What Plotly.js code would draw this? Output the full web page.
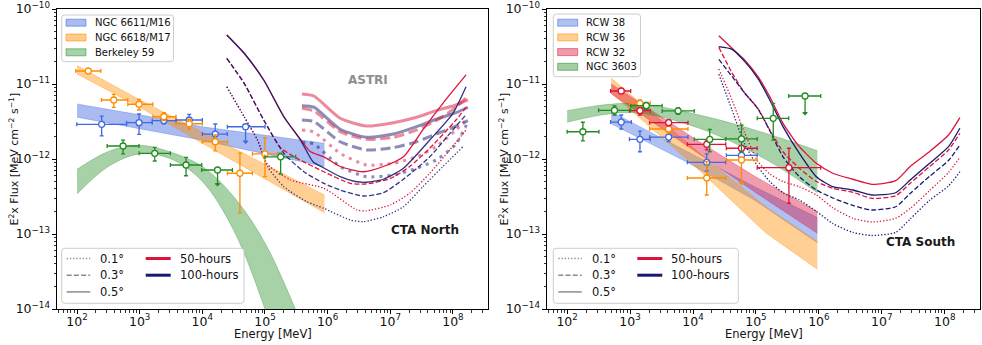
<!DOCTYPE html>
<html><head><meta charset="utf-8">
<script src="https://cdn.plot.ly/plotly-3.0.1.min.js"></script>
<style>html,body{margin:0;padding:0;background:#fff}#chart{width:982px;height:345px}</style>
</head><body><div id="chart"></div>
<script>
// ================= DATA (Energy in MeV, E^2 Flux in MeV cm^-2 s^-1) =================
// ---- Left panel: CTA North ----
// NGC 6611/M16
const m16E   = [247, 977, 2432, 6166, 1.607e4, 4.9e4];
const m16ELo = [99, 617, 1585, 3802, 1e4, 2.51e4];
const m16EHi = [617, 1585, 3802, 1e4, 2.51e4, 1e5];
const m16F   = [2.90e-12, 3.05e-12, 3.24e-12, 3.31e-12, 2.15e-12, 2.69e-12];
const m16FLo = [2.04e-12, 2.13e-12, 2.95e-12, 2.75e-12, 1.585e-12, 1.70e-12];
const m16FHi = [3.72e-12, 3.98e-12, 3.50e-12, 3.94e-12, 2.93e-12, 2.69e-12];
const m16UL  = [0, 0, 0, 0, 0, 1];
const m16BandE  = [100, 1000, 1e4, 1e5, 8.91e5];
const m16BandHi = [5.41e-12, 3.89e-12, 2.69e-12, 2.09e-12, 1.62e-12];
const m16BandLo = [3.60e-12, 2.51e-12, 1.78e-12, 1.17e-12, 7.94e-13];
// NGC 6618/M17
const m17E   = [151, 386, 977, 2432, 6166, 1.607e4, 3.98e4, 1e5];
const m17ELo = [95.5, 245, 646, 1622, 3802, 1e4, 2.51e4, 6.31e4];
const m17EHi = [240, 646, 1622, 3802, 1e4, 2.51e4, 6.31e4, 1.585e5];
const m17F   = [1.49e-11, 6.12e-12, 5.37e-12, 3.66e-12, 2.95e-12, 1.70e-12, 6.46e-13, 1.17e-12];
const m17FLo = [1.42e-11, 4.89e-12, 4.50e-12, 3.24e-12, 2.51e-12, 1.28e-12, 1.91e-13, 5.81e-13];
const m17FHi = [1.55e-11, 7.28e-12, 6.25e-12, 4.15e-12, 3.39e-12, 2.09e-12, 1.20e-12, 1.92e-12];
const m17UL  = [0, 0, 0, 0, 0, 0, 0, 0];
const m17BandE  = [100, 1000, 1e4, 1e5, 8.91e5];
const m17BandHi = [1.76e-11, 6.17e-12, 2.29e-12, 8.51e-13, 3.31e-13];
const m17BandLo = [1.36e-11, 4.90e-12, 1.62e-12, 5.37e-13, 1.92e-13];
// Berkeley 59
const b59E   = [543, 1738, 5495, 1.75e4, 1.778e5];
const b59ELo = [302, 977, 3090, 9772, 1e5];
const b59EHi = [977, 3090, 9772, 3.02e4, 3.09e5];
const b59F   = [1.49e-12, 1.19e-12, 8.32e-13, 7.13e-13, 1.07e-12];
const b59FLo = [1.17e-12, 9.4e-13, 5.98e-13, 4.6e-13, 6.3e-13];
const b59FHi = [1.79e-12, 1.43e-12, 1.05e-12, 7.13e-13, 1.2e-12];
const b59UL  = [0, 0, 0, 1, 0];
const b59BandE  = [100, 316, 1000, 3162, 1e4, 3.16e4, 1e5, 3.16e5];
const b59BandHi = [7.28e-13, 1.26e-12, 1.52e-12, 1.23e-12, 7.94e-13, 3.16e-13, 7.59e-14, 9.3e-15];
const b59BandLo = [3.41e-13, 7.94e-13, 1.17e-12, 1.0e-12, 5.01e-13, 1.12e-13, 1.0e-14, 5e-16];

// CTA North sensitivities
const nS100E = [2.455e4, 4.65e4, 9.55e4, 2.0e5, 3.69e5, 5.89e5, 8.71e5, 1.585e6, 2.75e6, 4.17e6, 7.76e6, 1.62e7, 4.27e7, 1e8, 1.62e8];
const nS100F = [4.50e-11, 2.57e-11, 1.13e-11, 3.66e-12, 1.79e-12, 9.12e-13, 7.59e-13, 5.81e-13, 5.01e-13, 4.90e-13, 5.37e-13, 7.52e-13, 1.79e-12, 4.07e-12, 9.20e-12];
const nS50E  = [2.455e4, 4.65e4, 9.55e4, 2.0e5, 3.69e5, 5.25e5, 8.71e5, 1.585e6, 3.72e6, 7.76e6, 1.62e7, 3.31e7, 6.92e7, 1.62e8];
const nS50F  = [4.50e-11, 2.57e-11, 1.13e-11, 3.66e-12, 1.82e-12, 1.26e-12, 1.07e-12, 7.94e-13, 6.76e-13, 7.94e-13, 1.07e-12, 2.45e-12, 5.53e-12, 1.32e-11];
const nD100E = [2.455e4, 4.65e4, 9.55e4, 2.0e5, 4.17e5, 8.71e5, 1.585e6, 3.72e6, 7.76e6, 1.62e7, 4.27e7, 1e8, 1.62e8];
const nD100F = [2.20e-11, 1.02e-11, 3.31e-12, 1.19e-12, 6.76e-13, 4.74e-13, 3.86e-13, 3.21e-13, 3.55e-13, 5.37e-13, 1.07e-12, 2.45e-12, 3.89e-12];
const nD50E  = [2.455e4, 4.65e4, 9.55e4, 1.778e5, 3.24e5, 8.71e5, 2.29e6, 4.17e6, 1e7, 2.04e7, 4.27e7, 1.122e8, 1.62e8];
const nD50F  = [2.20e-11, 1.02e-11, 3.31e-12, 1.41e-12, 1.02e-12, 6.76e-13, 4.74e-13, 4.65e-13, 5.50e-13, 7.94e-13, 1.39e-12, 3.31e-12, 4.90e-12];
const nT100E = [2.455e4, 4.65e4, 7.59e4, 1.096e5, 2.0e5, 4.68e5, 8.71e5, 2.29e6, 3.72e6, 7.76e6, 1.62e7, 3.31e7, 6.92e7, 1.445e8];
const nT100F = [9.20e-12, 3.66e-12, 1.79e-12, 7.94e-13, 4.27e-13, 2.69e-13, 2.20e-13, 1.54e-13, 1.46e-13, 1.70e-13, 2.31e-13, 4.27e-13, 7.94e-13, 1.46e-12];
const nT50E  = [2.455e4, 4.65e4, 7.59e4, 1.096e5, 2.57e5, 8.71e5, 2.95e6, 4.17e6, 1e7, 2.04e7, 4.27e7, 8.91e7, 1.62e8];
const nT50F  = [9.20e-12, 3.66e-12, 1.79e-12, 8.5e-13, 5.25e-13, 4.07e-13, 2.09e-13, 2.04e-13, 2.44e-13, 3.49e-13, 6.46e-13, 1.32e-12, 2.44e-12];

// ASTRI sensitivities
const astriE     = [3.89e5, 6.03e5, 1.585e6, 4.17e6, 1.122e7, 2.63e7, 5.37e7, 1.122e8, 1.738e8];
const astriS50F  = [7.36e-12, 6.92e-12, 3.49e-12, 2.75e-12, 3.05e-12, 3.60e-12, 4.41e-12, 5.25e-12, 6.12e-12];
const astriS100F = [5.14e-12, 4.90e-12, 2.49e-12, 1.95e-12, 2.15e-12, 2.70e-12, 3.39e-12, 4.14e-12, 4.90e-12];
const astriD50F  = [4.74e-12, 4.37e-12, 2.31e-12, 1.83e-12, 1.95e-12, 2.44e-12, 3.24e-12, 4.90e-12, 6.92e-12];
const astriD100F = [3.31e-12, 3.16e-12, 1.70e-12, 1.32e-12, 1.42e-12, 1.70e-12, 2.15e-12, 2.75e-12, 3.24e-12];
const astriT50F  = [2.44e-12, 2.29e-12, 1.19e-12, 8.32e-13, 8.77e-13, 1.07e-12, 1.46e-12, 2.44e-12, 3.49e-12];
const astriT100F = [1.66e-12, 1.585e-12, 7.94e-13, 5.81e-13, 6.12e-13, 7.52e-13, 9.70e-13, 1.585e-12, 3.16e-12];

// ---- Right panel: CTA South ----
// RCW 38
const r38E   = [724, 1435, 4102, 1.652e4, 5.89e4];
const r38ELo = [490, 977, 2042, 8128, 3.39e4];
const r38EHi = [1047, 2089, 8318, 3.31e4, 1.047e5];
const r38F   = [3.11e-12, 1.83e-12, 1.96e-12, 9.03e-13, 1.12e-12];
const r38FLo = [2.51e-12, 1.25e-12, 1.70e-12, 6.92e-13, 1.12e-12];
const r38FHi = [3.86e-12, 2.36e-12, 2.31e-12, 1.17e-12, 1.12e-12];
const r38UL  = [0, 0, 0, 0, 0];
const r38BandE  = [501, 7943, 1e5, 9.46e5];
const r38BandHi = [4.27e-12, 1.26e-12, 4.17e-13, 1.66e-13];
const r38BandLo = [2.95e-12, 9.12e-13, 2.75e-13, 7.66e-14];
// RCW 36
const r36E   = [1435, 4102, 1.652e4, 5.89e4];
const r36ELo = [977, 2042, 8128, 3.39e4];
const r36EHi = [2089, 8318, 3.31e4, 1.047e5];
const r36F   = [5.53e-12, 2.51e-12, 5.58e-13, 9.70e-13];
const r36FLo = [5.01e-12, 2.24e-12, 3.31e-13, 4.74e-13];
const r36FHi = [6.12e-12, 2.84e-12, 9.20e-13, 9.70e-13];
const r36UL  = [0, 0, 0, 1];
const r36BandE  = [501, 1.259e4, 1.462e5, 9.46e5];
const r36BandHi = [1.20e-11, 1.20e-12, 2.29e-13, 7.94e-14];
const r36BandLo = [7.59e-12, 7.08e-13, 1.02e-13, 3.39e-14];
// RCW 32
const r32E   = [724, 1435, 4102, 1.652e4, 5.89e4, 3.34e5];
const r32ELo = [490, 977, 2042, 8128, 3.39e4, 1.047e5];
const r32EHi = [1023, 2089, 8318, 3.31e4, 1.047e5, 1.07e6];
const r32F   = [8.07e-12, 4.41e-12, 3.05e-12, 1.57e-12, 1.39e-12, 7.66e-13];
const r32FLo = [7.52e-12, 3.86e-12, 2.78e-12, 1.32e-12, 1.39e-12, 2.57e-13];
const r32FHi = [8.77e-12, 4.83e-12, 3.31e-12, 1.79e-12, 1.39e-12, 1.39e-12];
const r32UL  = [0, 0, 0, 0, 0, 0];
const r32BandE  = [501, 1.259e4, 1e5, 9.46e5];
const r32BandHi = [1.0e-11, 1.70e-12, 5.75e-13, 2.0e-13];
const r32BandLo = [7.41e-12, 1.17e-12, 3.55e-13, 1.02e-13];
// NGC 3603
const n3603E   = [178, 566, 1811, 5794, 1.845e4, 5.89e4, 1.884e5, 6.03e5];
const n3603ELo = [100, 316, 1023, 3236, 1.047e4, 3.31e4, 1.047e5, 3.31e5];
const n3603EHi = [320, 1023, 3236, 1.047e4, 3.31e4, 1.047e5, 3.31e5, 1.07e6];
const n3603F   = [2.31e-12, 4.46e-12, 5.14e-12, 4.37e-12, 1.83e-12, 1.85e-12, 3.49e-12, 6.92e-12];
const n3603FLo = [1.74e-12, 3.86e-12, 4.60e-12, 3.94e-12, 1.25e-12, 1.25e-12, 1.79e-12, 4.07e-12];
const n3603FHi = [3.09e-12, 5.09e-12, 5.70e-12, 4.83e-12, 2.49e-12, 2.84e-12, 5.53e-12, 6.92e-12];
const n3603UL  = [0, 0, 0, 0, 0, 0, 0, 1];
const n3603BandE  = [100, 1000, 1.259e4, 1.462e5, 9.46e5];
const n3603BandHi = [4.41e-12, 5.53e-12, 3.86e-12, 2.19e-12, 1.29e-12];
const n3603BandLo = [3.09e-12, 4.17e-12, 2.57e-12, 9.77e-13, 3.55e-13];

// CTA South sensitivities
const sE     = [2.57e4, 4.17e4, 6.61e4, 1.072e5, 1.66e5, 2.69e5, 4.90e5, 9.12e5, 1.66e6, 3.47e6, 6.92e6, 1.66e7, 2.82e7, 5.75e7, 1.148e8, 1.738e8];
const sS50F  = [4.41e-11, 2.99e-11, 2.09e-11, 1.26e-11, 6.76e-12, 2.99e-12, 1.46e-12, 8.77e-13, 6.46e-13, 5.37e-13, 4.60e-13, 5.14e-13, 7.94e-13, 1.26e-12, 2.09e-12, 3.56e-12];
const sS100F = [3.15e-11, 2.90e-11, 2.0e-11, 1.19e-11, 6.12e-12, 2.70e-12, 1.19e-12, 5.81e-13, 4.27e-13, 3.86e-13, 3.31e-13, 3.55e-13, 5.25e-13, 8.77e-13, 1.46e-12, 2.57e-12];
const sD50F  = [3.09e-11, 1.41e-11, 7.59e-12, 4.74e-12, 2.44e-12, 1.25e-12, 7.52e-13, 5.01e-13, 4.07e-13, 3.60e-13, 2.99e-13, 3.24e-13, 4.74e-13, 7.94e-13, 1.32e-12, 2.20e-12];
const sD100F = [2.13e-11, 1.26e-11, 7.59e-12, 4.68e-12, 2.38e-12, 1.07e-12, 5.81e-13, 3.86e-13, 3.02e-13, 2.40e-13, 2.09e-13, 2.31e-13, 3.47e-13, 5.89e-13, 9.55e-13, 1.54e-12];
const sT50F  = [1.585e-11, 6.12e-12, 2.24e-12, 9.33e-13, 6.31e-13, 5.01e-13, 4.27e-13, 3.31e-13, 2.24e-13, 1.62e-13, 1.445e-13, 1.62e-13, 2.19e-13, 3.80e-13, 6.61e-13, 1.05e-12];
const sT100F = [1.35e-11, 4.50e-12, 1.585e-12, 7.94e-13, 5.01e-13, 3.55e-13, 2.84e-13, 2.0e-13, 1.38e-13, 1.05e-13, 9.55e-14, 1.05e-13, 1.585e-13, 2.82e-13, 4.37e-13, 6.76e-13];

// Legend / label texts
const leftNames  = ['NGC 6611/M16', 'NGC 6618/M17', 'Berkeley 59'];
const rightNames = ['RCW 38', 'RCW 36', 'RCW 32', 'NGC 3603'];
const styleNames = ['0.1°', '0.3°', '0.5°'];
const timeNames  = ['50-hours', '100-hours'];
const xTitle = 'Energy [MeV]';
const yTitle = 'E<sup>2</sup>x Flux [MeV cm<sup>\u22122</sup> s<sup>\u22121</sup>]';

// ================= STYLE =================
const COL = {blue:[65,105,225], orange:[255,140,0], green:[34,139,34], red:[220,20,60], navy:[25,25,112]};
const rgba = (c, a) => `rgba(${c[0]},${c[1]},${c[2]},${a})`;
const FONT = 'DejaVu Sans';
const DOT = '1.3px,1.9px', DASH = '5px,2.2px';
const TDOT = '3px,5px', TDASH = '10px,4.5px';
const W = 982, H = 345;
const PXx = x => x / W, PXy = y => 1 - y / H;

const traces = [];
function band(xa, ya, E, lo, hi, c, a, shape) {
  traces.push({x:E, y:lo, xaxis:xa, yaxis:ya, mode:'lines', hoverinfo:'skip', showlegend:false,
    line:{color:rgba(c, a+0.1), width:0.6, shape:shape, smoothing:1}});
  traces.push({x:E, y:hi, xaxis:xa, yaxis:ya, mode:'lines', hoverinfo:'skip', showlegend:false,
    fill:'tonexty', fillcolor:rgba(c, a), line:{color:rgba(c, a+0.1), width:0.6, shape:shape, smoothing:1}});
}
function curve(xa, ya, E, F, c, w, dash, op) {
  traces.push({x:E, y:F, xaxis:xa, yaxis:ya, mode:'lines', showlegend:false, opacity:op || 1,
    line:{color:rgba(c,1), width:w, dash:dash, shape:'spline', smoothing:0.6}});
}
function pts(xa, ya, c, E, ELo, EHi, F, FLo, FHi, UL) {
  traces.push({x:E, y:F, xaxis:xa, yaxis:ya, mode:'markers', showlegend:false,
    marker:{symbol:'circle', size:6, color:'#fff', line:{color:rgba(c,1), width:1.3}},
    error_x:{type:'data', symmetric:false, array:E.map((v,i)=>EHi[i]-v), arrayminus:E.map((v,i)=>v-ELo[i]), color:rgba(c,1), thickness:1.3, width:2},
    error_y:{type:'data', symmetric:false, array:F.map((v,i)=>FHi[i]-v), arrayminus:F.map((v,i)=>v-FLo[i]), color:rgba(c,1), thickness:1.3, width:2}});
  const ax = [], ay = [];
  UL.forEach((u,i) => { if (u) { ax.push(E[i]); ay.push(FLo[i]); } });
  if (ax.length) traces.push({x:ax, y:ay, xaxis:xa, yaxis:ya, mode:'markers', showlegend:false,
    marker:{symbol:'triangle-down', size:5, color:rgba(c,1)}});
}

// ---- left panel ----
band('x','y', m16BandE, m16BandLo, m16BandHi, COL.blue, 0.45, 'linear');
band('x','y', m17BandE, m17BandLo, m17BandHi, COL.orange, 0.42, 'linear');
band('x','y', b59BandE, b59BandLo, b59BandHi, COL.green, 0.4, 'spline');
curve('x','y', astriE, astriS50F,  COL.red, 3, 'solid', 0.5);
curve('x','y', astriE, astriS100F, COL.navy, 3, 'solid', 0.5);
curve('x','y', astriE, astriD50F,  COL.red, 3, TDASH, 0.5);
curve('x','y', astriE, astriD100F, COL.navy, 3, TDASH, 0.5);
curve('x','y', astriE, astriT50F,  COL.red, 3, TDOT, 0.5);
curve('x','y', astriE, astriT100F, COL.navy, 3, TDOT, 0.5);
curve('x','y', nS50E, nS50F, COL.red, 1.3, 'solid');
curve('x','y', nD50E, nD50F, COL.red, 1.3, DASH);
curve('x','y', nT50E, nT50F, COL.red, 1.3, DOT);
curve('x','y', nS100E, nS100F, COL.navy, 1.3, 'solid', 0.88);
curve('x','y', nD100E, nD100F, COL.navy, 1.3, DASH, 0.88);
curve('x','y', nT100E, nT100F, COL.navy, 1.3, DOT, 0.88);
pts('x','y', COL.blue, m16E, m16ELo, m16EHi, m16F, m16FLo, m16FHi, m16UL);
pts('x','y', COL.orange, m17E, m17ELo, m17EHi, m17F, m17FLo, m17FHi, m17UL);
pts('x','y', COL.green, b59E, b59ELo, b59EHi, b59F, b59FLo, b59FHi, b59UL);

// ---- right panel ----
band('x2','y2', r38BandE, r38BandLo, r38BandHi, COL.blue, 0.42, 'linear');
band('x2','y2', r36BandE, r36BandLo, r36BandHi, COL.orange, 0.42, 'linear');
band('x2','y2', r32BandE, r32BandLo, r32BandHi, COL.red, 0.42, 'linear');
band('x2','y2', n3603BandE, n3603BandLo, n3603BandHi, COL.green, 0.4, 'spline');
curve('x2','y2', sE, sS50F, COL.red, 1.3, 'solid');
curve('x2','y2', sE, sD50F, COL.red, 1.3, DASH);
curve('x2','y2', sE, sT50F, COL.red, 1.3, DOT);
curve('x2','y2', sE, sS100F, COL.navy, 1.3, 'solid');
curve('x2','y2', sE, sD100F, COL.navy, 1.3, DASH);
curve('x2','y2', sE, sT100F, COL.navy, 1.3, DOT);
pts('x2','y2', COL.blue, r38E, r38ELo, r38EHi, r38F, r38FLo, r38FHi, r38UL);
pts('x2','y2', COL.orange, r36E, r36ELo, r36EHi, r36F, r36FLo, r36FHi, r36UL);
pts('x2','y2', COL.red, r32E, r32ELo, r32EHi, r32F, r32FLo, r32FHi, r32UL);
pts('x2','y2', COL.green, n3603E, n3603ELo, n3603EHi, n3603F, n3603FLo, n3603FHi, n3603UL);

// ================= LEGENDS (drawn as shapes + text) =================
const shapes = [], annotations = [];
function frame(x0, y0, x1, y1) {
  const r = 3, P = (x, y) => `${PXx(x)},${PXy(y)}`;
  const path = `M${P(x0+r,y0)} L${P(x1-r,y0)} Q${P(x1,y0)} ${P(x1,y0+r)} L${P(x1,y1-r)} Q${P(x1,y1)} ${P(x1-r,y1)} L${P(x0+r,y1)} Q${P(x0,y1)} ${P(x0,y1-r)} L${P(x0,y0+r)} Q${P(x0,y0)} ${P(x0+r,y0)} Z`;
  shapes.push({type:'path', xref:'paper', yref:'paper', path, layer:'above',
    fillcolor:'rgba(255,255,255,0.8)', line:{color:'#cccccc', width:1}});
}
function patch(x0, yc, c, a) {
  shapes.push({type:'rect', xref:'paper', yref:'paper', layer:'above',
    x0:PXx(x0), x1:PXx(x0+20), y0:PXy(yc-3.5), y1:PXy(yc+3.5),
    fillcolor:rgba(c,a), line:{color:rgba(c,a+0.1), width:1}});
}
function sample(x0, x1, yc, color, w, dash) {
  shapes.push({type:'line', xref:'paper', yref:'paper', layer:'above',
    x0:PXx(x0), x1:PXx(x1), y0:PXy(yc), y1:PXy(yc), line:{color, width:w, dash}});
}
function label(x, yc, text, size, opts) {
  annotations.push(Object.assign({xref:'paper', yref:'paper', x:PXx(x), y:PXy(yc), text, showarrow:false,
    xanchor:'left', yanchor:'middle', borderpad:0, font:{family:FONT, size, color:'#111'}}, opts || {}));
}
// left top legend
frame(61.7, 15, 173.5, 61.7);
[COL.blue, COL.orange, COL.green].forEach((c, i) => {
  const yc = 22.7 + i * 14.8;
  patch(66, yc, c, c === COL.green ? 0.4 : 0.45);
  label(93.5, yc, leftNames[i], 10);
});
// right top legend
frame(553.3, 14, 640.5, 76.7);
[COL.blue, COL.orange, COL.red, COL.green].forEach((c, i) => {
  const yc = 22.7 + i * 14.7;
  patch(557.7, yc, c, 0.42);
  label(585, yc, rightNames[i], 10);
});
// bottom legends
function styleLegend(x0, x1) {
  frame(x0, 248.3, x1, 303.3);
  const dashes = [DOT, DASH, 'solid'];
  styleNames.forEach((t, i) => {
    const yc = 258.5 + i * 16.7;
    sample(x0 + 5, x0 + 28.5, yc, '#8c8c8c', 1.5, dashes[i]);
    label(x0 + 37.5, yc, t, 11.5);
  });
  [COL.red, COL.navy].forEach((c, i) => {
    const yc = 258.5 + i * 16.7;
    sample(x0 + 84, x0 + 109, yc, rgba(c,1), 3, 'solid');
    label(x0 + 117, yc, timeNames[i], 11.5);
  });
}
styleLegend(61.7, 244);
styleLegend(553.3, 738.3);

// panel labels
label(368, 80, '<b>ASTRI</b>', 12, {xanchor:'center', font:{family:FONT, size:12, color:'#8f8f8f'}});
label(424.5, 230, '<b>CTA North</b>', 12, {xanchor:'center', font:{family:FONT, size:12, color:'#1a1a1a'}});
label(920, 242, '<b>CTA South</b>', 12, {xanchor:'center', font:{family:FONT, size:12, color:'#1a1a1a'}});
// axis titles (placed precisely)
label(13.5, 159, yTitle, 11, {xanchor:'center', textangle:-90});
label(503.5, 159, yTitle, 11, {xanchor:'center', textangle:-90});
label(272.5, 334, xTitle, 11.5, {xanchor:'center'});
label(763.5, 334, xTitle, 11.5, {xanchor:'center'});

// ================= AXES =================
function xAx(domain, anchor) {
  return {type:'log', domain, anchor, range:[1.68, 8.56], dtick:1, exponentformat:'power',
    showline:true, mirror:true, linecolor:'#000', linewidth:1, ticks:'outside', ticklen:4, tickwidth:1, tickcolor:'#000',
    ticklabelstandoff:-3,
    showgrid:false, zeroline:false, tickfont:{family:FONT, size:10, color:'#111'},
    minor:{ticks:'outside', ticklen:2.5, tickwidth:0.8, tickcolor:'#000', dtick:'D1', showgrid:false}};
}
function yAx(anchor) {
  return {type:'log', domain:[1-309/H, 1-9/H], anchor, range:[-14, -10], dtick:1, exponentformat:'power',
    showline:true, mirror:true, linecolor:'#000', linewidth:1, ticks:'outside', ticklen:4, tickwidth:1, tickcolor:'#000',
    showgrid:false, zeroline:false, tickfont:{family:FONT, size:10, color:'#111'},
    minor:{ticks:'outside', ticklen:2.5, tickwidth:0.8, tickcolor:'#000', dtick:'D1', showgrid:false}};
}
const layout = {
  width:W, height:H, margin:{l:0, r:0, t:0, b:0}, paper_bgcolor:'#fff', plot_bgcolor:'#fff',
  showlegend:false, font:{family:FONT},
  xaxis:xAx([57/W, 488/W], 'y'), yaxis:yAx('x'),
  xaxis2:xAx([547/W, 980/W], 'y2'), yaxis2:yAx('x2'),
  shapes, annotations
};
Plotly.newPlot('chart', traces, layout, {displayModeBar:false, staticPlot:true});
</script></body></html>
